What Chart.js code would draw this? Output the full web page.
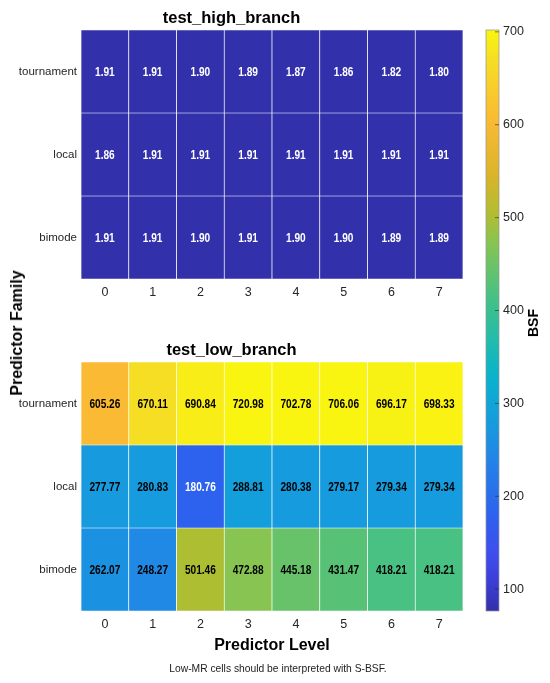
<!DOCTYPE html>
<html>
<head>
<meta charset="utf-8">
<script src="https://cdn.jsdelivr.net/npm/chart.js@4.4.1/dist/chart.umd.min.js"></script>
<style>
  html, body { margin: 0; padding: 0; background: #ffffff; }
  #wrap { position: relative; width: 550px; height: 683px; overflow: hidden; background: #fff; }
  canvas { position: absolute; }
  .lbl { position: absolute; font-family: "Liberation Sans", Arial, sans-serif; color: #000; white-space: nowrap; }
</style>
</head>
<body>
<div id="wrap">
  <canvas id="cHigh" style="left:0;top:0;width:475px;height:300px"></canvas>
  <canvas id="cLow" style="left:0;top:332px;width:475px;height:351px"></canvas>
  <canvas id="cBar" style="left:470px;top:0;width:80px;height:683px"></canvas>
  <div class="lbl" id="yTitle" style="font-weight:bold;font-size:16px;left:17px;top:333px;transform:translate(-50%,-50%) rotate(-90deg);">Predictor Family</div>
  <div class="lbl" id="cbTitle" style="font-weight:bold;font-size:14px;left:533px;top:323px;transform:translate(-50%,-50%) rotate(-90deg);">BSF</div>
  <div class="lbl" id="foot" style="font-size:10.3px;left:278px;top:668px;transform:translate(-50%,-50%);color:#222;">Low-MR cells should be interpreted with S-BSF.</div>
</div>
<script>
// ---------------- data ----------------
const levels = ['0', '1', '2', '3', '4', '5', '6', '7'];
const families = ['tournament', 'local', 'bimode'];

const highTournament = [1.91, 1.91, 1.90, 1.89, 1.87, 1.86, 1.82, 1.80];
const highLocal      = [1.86, 1.91, 1.91, 1.91, 1.91, 1.91, 1.91, 1.91];
const highBimode     = [1.91, 1.91, 1.90, 1.91, 1.90, 1.90, 1.89, 1.89];

const lowTournament = [605.26, 670.11, 690.84, 720.98, 702.78, 706.06, 696.17, 698.33];
const lowLocal      = [277.77, 280.83, 180.76, 288.81, 280.38, 279.17, 279.34, 279.34];
const lowBimode     = [262.07, 248.27, 501.46, 472.88, 445.18, 431.47, 418.21, 418.21];

const colorTicks = [100, 200, 300, 400, 500, 600, 700];
const cMin = 76.5, cMax = 702;

// ---------------- colormap (parula-like) ----------------
const cmapStops = [
  [0.00, [50, 48, 170]],
  [0.05, [60, 62, 215]],
  [0.10, [62, 78, 238]],
  [0.167, [45, 98, 238]],
  [0.25, [36, 128, 232]],
  [0.325, [22, 155, 222]],
  [0.40, [8, 178, 205]],
  [0.47, [35, 188, 170]],
  [0.546, [72, 193, 130]],
  [0.634, [135, 196, 82]],
  [0.68, [175, 190, 50]],
  [0.75, [218, 180, 42]],
  [0.845, [250, 186, 52]],
  [0.95, [246, 222, 36]],
  [1.00, [249, 245, 16]]
];
function cmap(t) {
  t = Math.max(0, Math.min(1, t));
  for (let i = 1; i < cmapStops.length; i++) {
    const [t1, c1] = cmapStops[i];
    const [t0, c0] = cmapStops[i - 1];
    if (t <= t1) {
      const f = (t - t0) / (t1 - t0);
      return [0, 1, 2].map(k => Math.round(c0[k] + (c1[k] - c0[k]) * f));
    }
  }
  return cmapStops[cmapStops.length - 1][1];
}
function valueColor(v) {
  const c = cmap((v - cMin) / (cMax - cMin));
  return `rgb(${c[0]},${c[1]},${c[2]})`;
}
function textColorFor(v) {
  const c = cmap((v - cMin) / (cMax - cMin));
  const lum = (0.2126 * c[0] + 0.7152 * c[1] + 0.0722 * c[2]) / 255;
  return lum < 0.42 ? '#ffffff' : '#000000';
}

const sans = '"Liberation Sans", Arial, sans-serif';

// ---------------- cell label plugin (condensed text) ----------------
const cellLabels = {
  id: 'cellLabels',
  afterDatasetsDraw(chart) {
    const ctx = chart.ctx;
    const sx = 0.75;
    chart.data.datasets.forEach((ds, di) => {
      const meta = chart.getDatasetMeta(di);
      meta.data.forEach((el, i) => {
        const v = ds.values[i];
        ctx.save();
        ctx.translate(el.x, (el.y + el.base) / 2 + 0.5);
        ctx.scale(sx, 1);
        ctx.font = 'bold 13.5px ' + sans;
        ctx.textAlign = 'center';
        ctx.textBaseline = 'middle';
        ctx.fillStyle = textColorFor(v);
        ctx.fillText(v.toFixed(2), 0, 0);
        ctx.restore();
      });
    });
  }
};

function buildHeatmap(canvasId, title, rows, xTitle) {
  const datasets = rows.map((vals, idx) => {
    const r = 2 - idx; // tournament on top
    return {
      label: families[idx],
      values: vals,
      data: vals.map(() => [r, r + 1]),
      backgroundColor: vals.map(valueColor),
      borderColor: 'rgba(255,255,255,0.85)',
      borderWidth: 0.7,
      borderSkipped: false,
      barPercentage: 1.0,
      categoryPercentage: 1.0,
      grouped: false
    };
  });
  const canvasH = document.getElementById(canvasId).clientHeight;
  const xAxisH = xTitle ? 44.6 : 21;
  return new Chart(document.getElementById(canvasId), {
    type: 'bar',
    data: { labels: levels, datasets },
    options: {
      responsive: false,
      maintainAspectRatio: false,
      animation: false,
      events: [],
      layout: { padding: { left: 0, right: 12, top: 0, bottom: xTitle ? (canvasH - 30 - 249 - xAxisH) : 0 } },
      plugins: {
        legend: { display: false },
        tooltip: { enabled: false },
        title: {
          display: true,
          text: title,
          color: '#000',
          font: { family: sans, size: 16.5, weight: 'bold', lineHeight: 1.2 },
          padding: { top: 8.2, bottom: 2 }
        }
      },
      scales: {
        x: {
          type: 'category',
          offset: true,
          grid: { display: false, drawTicks: false },
          border: { display: false },
          ticks: { color: '#262626', font: { family: sans, size: 12.5 }, padding: 6, maxRotation: 0 },
          title: xTitle ? {
            display: true, text: xTitle, color: '#000',
            font: { family: sans, size: 16, weight: 'bold', lineHeight: 1.2 },
            padding: { top: 0, bottom: 0 }
          } : { display: false },
          afterFit(scale) { scale.height = xAxisH; }
        },
        y: {
          type: 'linear',
          min: 0, max: 3,
          grid: { display: false, drawTicks: false },
          border: { display: false },
          afterBuildTicks(scale) { scale.ticks = [{ value: 0.5 }, { value: 1.5 }, { value: 2.5 }]; },
          ticks: {
            color: '#262626',
            font: { family: sans, size: 11.5 },
            padding: 4,
            callback: v => families[2 - Math.floor(v)]
          },
          afterFit(scale) { scale.width = 81; }
        }
      }
    },
    plugins: [cellLabels]
  });
}

function sizeCanvas(id) {
  const c = document.getElementById(id);
  c.width = c.clientWidth; c.height = c.clientHeight;
}
['cHigh', 'cLow', 'cBar'].forEach(sizeCanvas);

buildHeatmap('cHigh', 'test_high_branch', [highTournament, highLocal, highBimode], null);
buildHeatmap('cLow', 'test_low_branch', [lowTournament, lowLocal, lowBimode], 'Predictor Level');

// ---------------- colorbar ----------------
const colorbarFill = {
  id: 'colorbarFill',
  beforeDatasetsDraw(chart) {
    const { ctx, chartArea } = chart;
    const ys = chart.scales.y;
    const g = ctx.createLinearGradient(0, ys.getPixelForValue(cMin), 0, ys.getPixelForValue(cMax));
    for (let i = 0; i <= 64; i++) {
      const v = cMin + (cMax - cMin) * i / 64;
      g.addColorStop(i / 64, valueColor(v));
    }
    ctx.save();
    ctx.fillStyle = g;
    ctx.fillRect(chartArea.left, chartArea.top, chartArea.right - chartArea.left, chartArea.bottom - chartArea.top);
    ctx.strokeStyle = 'rgba(150,150,150,0.9)';
    ctx.lineWidth = 0.8;
    ctx.strokeRect(chartArea.left, chartArea.top, chartArea.right - chartArea.left, chartArea.bottom - chartArea.top);
    ctx.strokeStyle = 'rgba(40,40,40,0.75)';
    ctx.lineWidth = 0.8;
    colorTicks.forEach(t => {
      const y = ys.getPixelForValue(t);
      ctx.beginPath();
      ctx.moveTo(chartArea.right - 4, y);
      ctx.lineTo(chartArea.right, y);
      ctx.stroke();
    });
    ctx.restore();
  }
};

new Chart(document.getElementById('cBar'), {
  type: 'bar',
  data: { labels: [''], datasets: [] },
  options: {
    responsive: false,
    maintainAspectRatio: false,
    animation: false,
    events: [],
    layout: { padding: { left: 16, right: 0, top: 30, bottom: 72 } },
    plugins: { legend: { display: false }, tooltip: { enabled: false }, title: { display: false } },
    scales: {
      x: { display: false },
      y: {
        type: 'linear',
        position: 'right',
        min: cMin, max: cMax,
        grid: { display: false, drawTicks: false },
        border: { display: false },
        afterBuildTicks(scale) { scale.ticks = colorTicks.map(v => ({ value: v })); },
        ticks: { color: '#262626', font: { family: sans, size: 12.5 }, padding: 4 },
        afterFit(scale) { scale.width = 51; }
      }
    }
  },
  plugins: [colorbarFill]
});
</script>
</body>
</html>
